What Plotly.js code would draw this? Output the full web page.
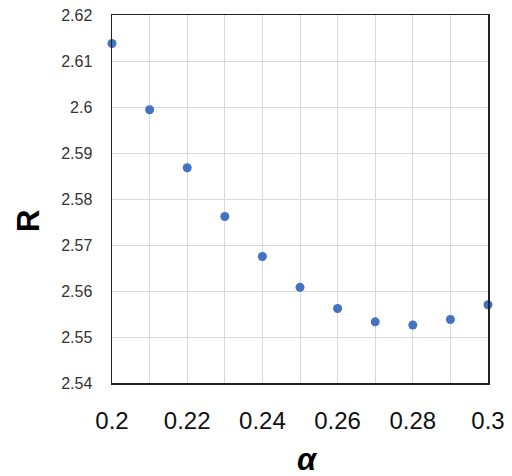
<!DOCTYPE html>
<html>
<head>
<meta charset="utf-8">
<script src="https://cdn.plot.ly/plotly-3.0.1.min.js"></script>
<style>html,body{margin:0;padding:0;background:#fff;}</style>
</head>
<body>
<div id="chart" style="width:512px;height:476px;"></div>
<script>
var alpha = [0.20, 0.21, 0.22, 0.23, 0.24, 0.25, 0.26, 0.27, 0.28, 0.29, 0.30];
var R = [2.6138, 2.5994, 2.5868, 2.5762, 2.5675, 2.5608, 2.5562, 2.5533, 2.5526, 2.5538, 2.5570];
var xTickVals = [0.20, 0.21, 0.22, 0.23, 0.24, 0.25, 0.26, 0.27, 0.28, 0.29, 0.30];
var xTickText = ['0.2', '', '0.22', '', '0.24', '', '0.26', '', '0.28', '', '0.3'];
var yTickVals = [2.54, 2.55, 2.56, 2.57, 2.58, 2.59, 2.60, 2.61, 2.62];
var yTickText = ['2.54', '2.55', '2.56', '2.57', '2.58', '2.59', '2.6', '2.61', '2.62'];

var trace = {
  x: alpha, y: R, type: 'scatter', mode: 'markers',
  marker: {color: '#4472C4', size: 9},
  cliponaxis: false, showlegend: false
};

var layout = {
  width: 512, height: 476,
  margin: {l: 112, r: 24, t: 15, b: 93},
  paper_bgcolor: '#fff', plot_bgcolor: '#fff',
  xaxis: {
    range: [0.2, 0.3], tickvals: xTickVals, ticktext: xTickText,
    showgrid: true, gridcolor: '#d9d9d9', gridwidth: 1,
    showline: true, linecolor: '#222', linewidth: 1.5, mirror: true,
    ticks: '', ticklabelstandoff: 16,
    tickfont: {family: 'Liberation Sans, Arial', size: 24, color: '#111'},
    zeroline: false, fixedrange: true
  },
  yaxis: {
    range: [2.54, 2.62], tickvals: yTickVals, ticktext: yTickText,
    showgrid: true, gridcolor: '#d9d9d9', gridwidth: 1,
    showline: true, linecolor: '#222', linewidth: 1.5, mirror: true,
    ticks: '', ticklabelstandoff: 15,
    tickfont: {family: 'Liberation Sans, Arial', size: 16, color: '#333'},
    zeroline: false, fixedrange: true
  },
  annotations: [
    {text: '<b>R</b>', xref: 'paper', yref: 'paper', x: 0, y: 0.5,
     xanchor: 'center', yanchor: 'middle',
     xshift: -84, yshift: -22, showarrow: false, textangle: -90,
     font: {family: 'Liberation Sans, Arial', size: 31, color: '#000'}},
    {text: '<b><i>α</i></b>', xref: 'paper', yref: 'paper', x: 0.5, y: 0,
     xanchor: 'center', yanchor: 'middle',
     yshift: -76, xshift: 7, showarrow: false,
     font: {family: 'Liberation Sans, Arial', size: 31, color: '#000'}}
  ]
};

Plotly.newPlot('chart', [trace], layout, {staticPlot: true, displayModeBar: false});
</script>
</body>
</html>
